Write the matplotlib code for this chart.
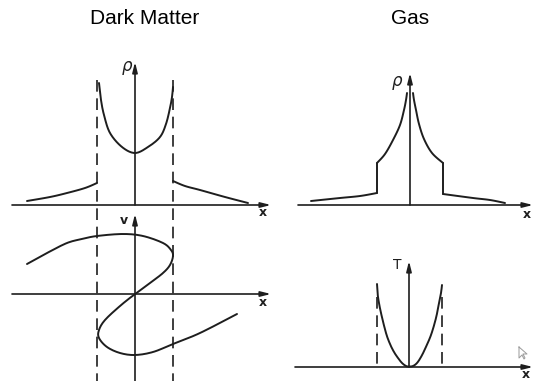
import numpy as np
import matplotlib
matplotlib.use('Agg')
import matplotlib.pyplot as plt

# picture coordinates (pixels, y downwards)
dm_rho_inner = [(99, 83), (101, 100), (104, 115), (110, 133), (122, 147), (135, 153),
                (148, 147), (160, 137), (166, 124), (170, 108), (172, 97), (173, 87)]
dm_rho_left = [(27, 201), (50, 197), (67, 193), (85, 188), (97, 183)]
dm_rho_right = [(173, 181), (185, 186), (200, 190), (225, 197), (248, 203)]

dm_vel = [(27, 264), (47, 253), (67, 243), (82, 239), (97, 236), (123, 234), (143, 236),
          (163, 243), (171, 250), (173, 256), (170, 265), (163, 273), (150, 283),
          (135, 294), (120, 306), (105, 320), (99, 330), (99, 338), (107, 347),
          (120, 353), (135, 355), (153, 352), (173, 344), (200, 333), (237, 314)]

gas_rho_tail_l = [(311, 201), (340, 198), (360, 196), (377, 193)]
gas_rho_step_l = [(377, 193), (377, 163)]
gas_rho_core_l = [(377, 163), (385, 154), (393, 140), (400, 125), (404, 110), (406, 100), (407, 93)]
gas_rho_core_r = [(413, 93), (414, 100), (416, 110), (419, 124), (424, 139), (432, 153), (443, 163)]
gas_rho_step_r = [(443, 163), (443, 194)]
gas_rho_tail_r = [(443, 194), (473, 198), (490, 200), (505, 203)]

gas_T = [(377, 284), (378, 297), (381, 313), (386, 333), (390, 344), (394, 352),
         (398, 358), (402, 363), (406, 366), (409, 366.5), (413, 366), (417, 363),
         (421, 357), (425, 349), (431, 335), (436, 318), (439, 303), (441, 293), (442, 285)]

titles = ["Dark Matter", "Gas"]

INK = '#1e1e1e'


def smooth(pts, n=12):
    # Catmull-Rom through the read points
    p = np.array(pts, dtype=float)
    if len(p) < 3:
        return p[:, 0], p[:, 1]
    p = np.vstack([p[0], p, p[-1]])
    out = []
    for i in range(1, len(p) - 2):
        p0, p1, p2, p3 = p[i - 1], p[i], p[i + 1], p[i + 2]
        for t in np.linspace(0, 1, n, endpoint=False):
            t2, t3 = t * t, t * t * t
            out.append(0.5 * ((2 * p1) + (-p0 + p2) * t + (2 * p0 - 5 * p1 + 4 * p2 - p3) * t2
                              + (-p0 + 3 * p1 - 3 * p2 + p3) * t3))
    out.append(p[-2])
    out = np.array(out)
    return out[:, 0], out[:, 1]


fig = plt.figure(figsize=(5.36, 3.81), dpi=100)
ax = fig.add_axes([0, 0, 1, 1])
ax.set_xlim(0, 536)
ax.set_ylim(381, 0)
ax.axis('off')


def arrow(x0, y0, x1, y1):
    ax.annotate('', xy=(x1, y1), xytext=(x0, y0),
                arrowprops=dict(arrowstyle='-|>,head_length=0.6,head_width=0.15',
                                color=INK, lw=1.2, shrinkA=0, shrinkB=0))


def curve(pts, lw=1.4):
    xs, ys = smooth(pts)
    ax.plot(xs, ys, color=INK, lw=lw, solid_capstyle='round', solid_joinstyle='miter')


# axes of the four sketches
arrow(12, 205, 271, 205)
arrow(135, 205, 135, 62)
arrow(12, 294, 271, 294)
arrow(135, 381, 135, 214)
arrow(298, 205, 533, 205)
arrow(410, 205, 410, 73)
arrow(295, 367, 533, 367)
arrow(409, 367, 409, 261)

# dashed guide lines
for xd in (97, 173):
    ax.plot([xd, xd], [80, 381], color=INK, lw=1.2, dashes=(7, 4))
for xd in (377, 442):
    ax.plot([xd, xd], [297, 367], color=INK, lw=1.2, dashes=(7, 4))

for pts in (dm_rho_inner, dm_rho_left, dm_rho_right, dm_vel,
            gas_rho_tail_l, gas_rho_step_l, gas_rho_core_l,
            gas_rho_core_r, gas_rho_step_r, gas_rho_tail_r, gas_T):
    curve(pts)

# mouse pointer left in the screenshot
ax.plot([519, 519, 522, 524, 525, 523, 527, 519], [347, 358, 355, 359, 358, 354, 354, 347],
        color='#9a9a9a', lw=0.7)

# labels
lab = dict(color=INK, ha='center', va='center')
ax.text(127, 68, r'$\rho$', fontsize=12, **lab)
ax.text(263, 213, 'x', fontsize=9, fontweight='bold', **lab)
ax.text(124, 221, 'v', fontsize=9, fontweight='bold', **lab)
ax.text(263, 302, 'x', fontsize=9, fontweight='bold', **lab)
ax.text(397, 83, r'$\rho$', fontsize=12, **lab)
ax.text(527, 215, 'x', fontsize=9, fontweight='bold', **lab)
ax.text(397, 265, 'T', fontsize=10, **lab)
ax.text(526, 374, 'x', fontsize=9, fontweight='bold', **lab)

ax.text(145, 18, titles[0], fontsize=15, color='black', ha='center', va='center',
        family='Liberation Sans')
ax.text(410, 18, titles[1], fontsize=15, color='black', ha='center', va='center',
        family='Liberation Sans')

fig.savefig('out.png', dpi=100)
